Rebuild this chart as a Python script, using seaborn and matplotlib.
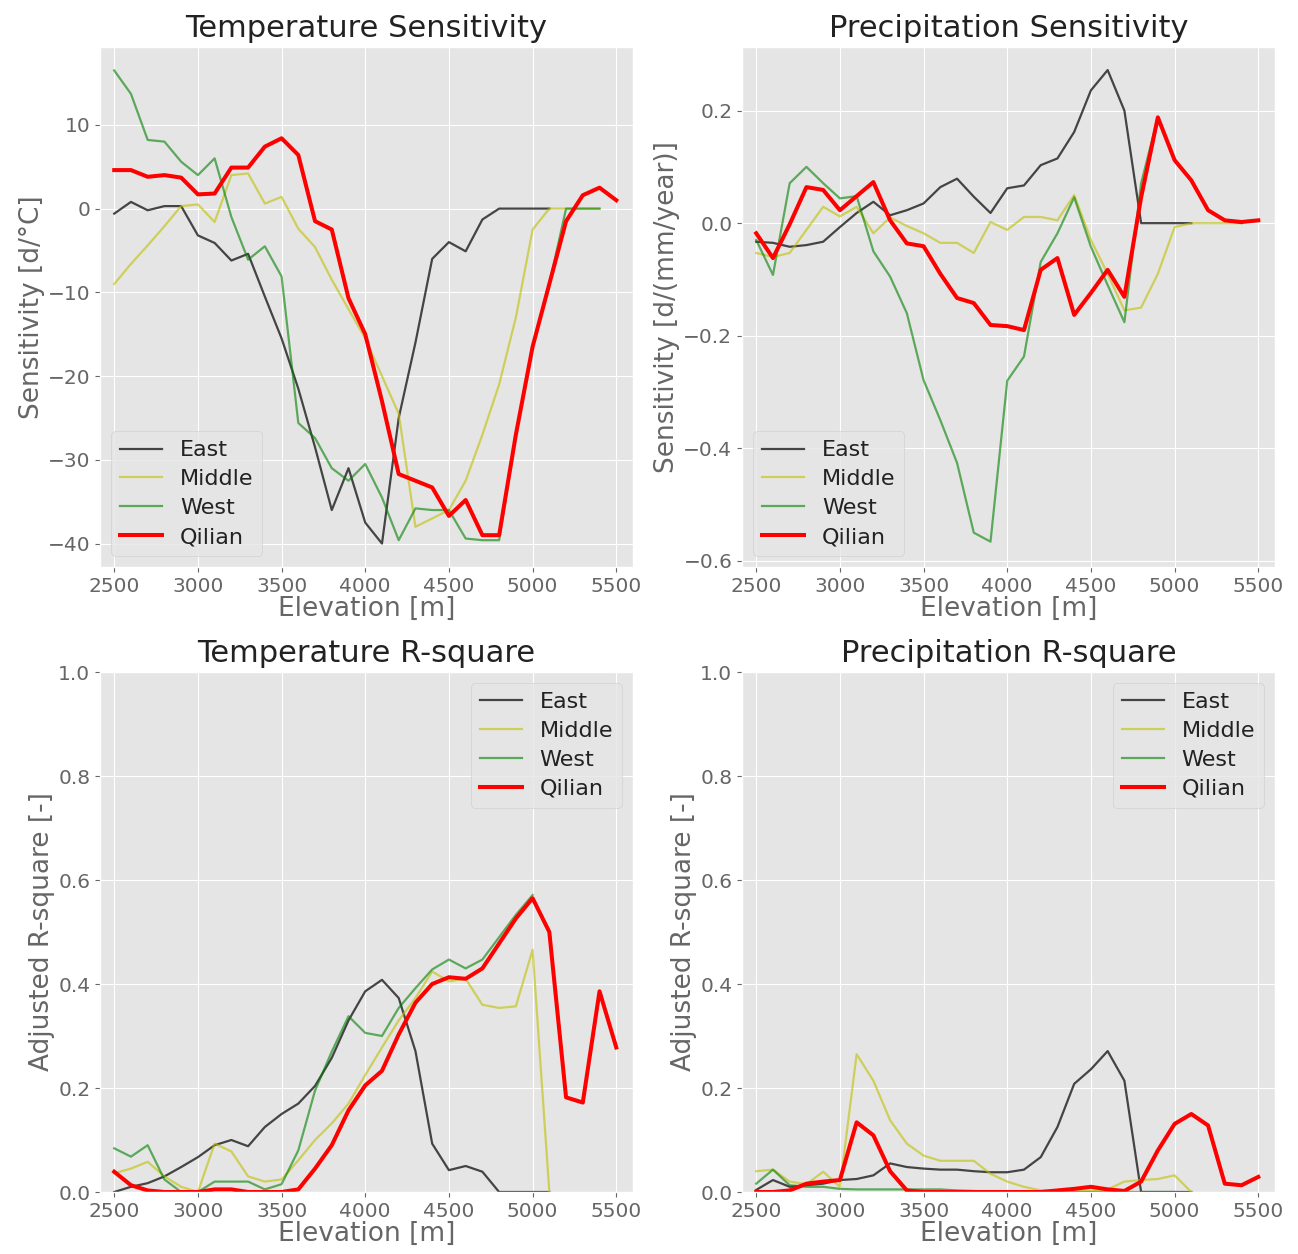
import numpy as np
import pandas as pd
import matplotlib
matplotlib.use("Agg")
import matplotlib.pyplot as plt
import seaborn as sns

nan = np.nan
elevation = list(range(2500, 5600, 100))
regions = ["East", "Middle", "West", "Qilian"]

# Temperature sensitivity [d/°C]
east_ts = [-0.6, 0.8, -0.2, 0.3, 0.3, -3.2, -4.1, -6.2, -5.4, -10.5, -15.5, -21.5, -28.5, -36, -31, -37.5,
           -40, -25, -16, -6, -4, -5.1, -1.3, 0, 0, 0, 0, nan, nan, nan, nan]
middle_ts = [-9, -6.6, -4.4, -2.1, 0.3, 0.5, -1.6, 4.0, 4.2, 0.6, 1.4, -2.4, -4.6, -8.5, -12, -15.5,
             -20, -24.5, -38, -37, -36, -32.5, -27, -21, -13, -2.5, 0, 0, 0, 0, nan]
west_ts = [16.5, 13.7, 8.2, 8.0, 5.6, 4.0, 6.0, -1.0, -6.1, -4.5, -8.1, -25.6, -27.4, -31, -32.5, -30.5,
           -34.5, -39.6, -35.8, -36, -36, -39.4, -39.6, -39.6, -27, -16.5, -9, 0, 0, 0, nan]
qilian_ts = [4.6, 4.6, 3.8, 4.0, 3.7, 1.7, 1.8, 4.9, 4.9, 7.4, 8.4, 6.4, -1.5, -2.5, -10.7, -15,
             -23, -31.7, -32.5, -33.3, -36.7, -34.8, -39, -39, -27, -16.5, -9, -1.5, 1.6, 2.5, 1.0]

# Precipitation sensitivity [d/(mm/year)]
east_ps = [-0.033, -0.035, -0.042, -0.039, -0.033, -0.007, 0.018, 0.038, 0.014, 0.023, 0.035, 0.064,
           0.079, 0.047, 0.018, 0.062, 0.067, 0.103, 0.115, 0.162, 0.236, 0.272, 0.2, 0, 0, 0, 0,
           nan, nan, nan, nan]
middle_ps = [-0.053, -0.06, -0.053, -0.012, 0.029, 0.012, 0.029, -0.018, 0.01, -0.005, -0.018, -0.035,
             -0.035, -0.053, 0.002, -0.012, 0.011, 0.011, 0.005, 0.05, -0.03, -0.09, -0.155, -0.15,
             -0.09, -0.007, 0, 0, 0, 0, nan]
west_ps = [-0.03, -0.092, 0.071, 0.1, 0.071, 0.044, 0.048, -0.05, -0.095, -0.16, -0.279, -0.35,
           -0.426, -0.55, -0.566, -0.28, -0.237, -0.069, -0.018, 0.046, -0.042, -0.11, -0.176, 0.071,
           0.188, 0.112, 0.076, 0.023, 0.005, 0.0, nan]
qilian_ps = [-0.018, -0.062, -0.002, 0.064, 0.059, 0.023, 0.048, 0.073, 0.005, -0.036, -0.041, -0.09,
             -0.133, -0.142, -0.181, -0.183, -0.19, -0.083, -0.062, -0.163, -0.124, -0.083, -0.131,
             0.046, 0.188, 0.112, 0.076, 0.023, 0.005, 0.002, 0.005]

# Temperature adjusted R-square
east_tr = [0.0, 0.01, 0.017, 0.03, 0.048, 0.067, 0.09, 0.1, 0.088, 0.125, 0.15, 0.17, 0.204, 0.258,
           0.33, 0.386, 0.408, 0.373, 0.271, 0.093, 0.042, 0.05, 0.039, 0, 0, 0, 0, nan, nan, nan, nan]
middle_tr = [0.036, 0.045, 0.058, 0.03, 0.01, 0.0, 0.093, 0.078, 0.03, 0.02, 0.024, 0.061, 0.1, 0.132,
             0.17, 0.225, 0.278, 0.33, 0.373, 0.424, 0.405, 0.41, 0.36, 0.354, 0.357, 0.466, 0.0,
             nan, nan, nan, nan]
west_tr = [0.084, 0.068, 0.09, 0.024, 0.0, 0.0, 0.02, 0.02, 0.02, 0.005, 0.015, 0.08, 0.195, 0.27,
           0.338, 0.306, 0.3, 0.354, 0.392, 0.428, 0.447, 0.43, 0.447, 0.49, 0.533, 0.571,
           nan, nan, nan, nan, nan]
qilian_tr = [0.039, 0.013, 0.003, 0.0, 0.0, 0.0, 0.005, 0.005, 0.0, 0.0, 0.0, 0.005, 0.045, 0.09,
             0.157, 0.205, 0.233, 0.303, 0.364, 0.4, 0.413, 0.41, 0.43, 0.478, 0.526, 0.565, 0.5,
             0.182, 0.172, 0.386, 0.278]

# Precipitation adjusted R-square
east_pr = [0.004, 0.023, 0.01, 0.013, 0.016, 0.023, 0.025, 0.032, 0.055, 0.048, 0.045, 0.043, 0.043,
           0.04, 0.038, 0.038, 0.043, 0.067, 0.125, 0.208, 0.236, 0.271, 0.214, 0.0, 0, 0, 0,
           nan, nan, nan, nan]
middle_pr = [0.04, 0.043, 0.02, 0.015, 0.039, 0.01, 0.265, 0.214, 0.138, 0.093, 0.07, 0.06, 0.06,
             0.06, 0.035, 0.02, 0.01, 0.003, 0.002, 0.002, 0.002, 0.005, 0.02, 0.023, 0.025, 0.032,
             0.0, nan, nan, nan, nan]
west_pr = [0.016, 0.043, 0.013, 0.01, 0.01, 0.006, 0.005, 0.005, 0.005, 0.005, 0.005, 0.005, 0.003,
           0.002, 0.0, 0, 0, 0, 0, 0, 0, 0, 0, 0, 0, 0, nan, nan, nan, nan, nan]
qilian_pr = [0.0, 0.0, 0.003, 0.016, 0.02, 0.023, 0.134, 0.109, 0.04, 0.003, 0.0, 0.0, 0.0, 0.0, 0.0,
             0.0, 0.0, 0.0, 0.003, 0.006, 0.01, 0.005, 0.002, 0.02, 0.08, 0.131, 0.15, 0.128, 0.016,
             0.013, 0.029]

titles = ["Temperature Sensitivity", "Precipitation Sensitivity",
          "Temperature R-square", "Precipitation R-square"]
ylabels = ["Sensitivity [d/°C]", "Sensitivity [d/(mm/year)]",
           "Adjusted R-square [-]", "Adjusted R-square [-]"]
panels = [
    [east_ts, middle_ts, west_ts, qilian_ts],
    [east_ps, middle_ps, west_ps, qilian_ps],
    [east_tr, middle_tr, west_tr, qilian_tr],
    [east_pr, middle_pr, west_pr, qilian_pr],
]

plt.style.use("ggplot")
plt.rcParams["font.family"] = ["DejaVu Sans"]

styles = {
    "East": dict(color="k", alpha=0.7, lw=1.6),
    "Middle": dict(color="y", alpha=0.6, lw=1.6),
    "West": dict(color="g", alpha=0.6, lw=1.6),
    "Qilian": dict(color="r", alpha=1.0, lw=2.9),
}

fig = plt.figure(figsize=(12.98, 12.54), dpi=100)
W, H = 1298, 1254
boxes = [(100, 47, 633, 567), (742, 47, 1275, 567), (100, 672, 633, 1192), (742, 672, 1275, 1192)]

for i, (series, (l, t, r, b)) in enumerate(zip(panels, boxes)):
    ax = fig.add_axes([l / W, 1 - b / H, (r - l) / W, (b - t) / H])
    for name, vals in zip(regions, series):
        st = styles[name]
        sns.lineplot(x=elevation, y=vals, ax=ax, label=name, color=st["color"],
                     alpha=st["alpha"], linewidth=st["lw"], errorbar=None)
    ax.set_xlim(2415, 5600)
    ax.set_xticks([2500, 3000, 3500, 4000, 4500, 5000, 5500])
    if i == 0:
        ax.set_ylim(-42.8, 19.3)
        ax.set_yticks([-40, -30, -20, -10, 0, 10])
    elif i == 1:
        ax.set_ylim(-0.611, 0.313)
        ax.set_yticks([-0.6, -0.4, -0.2, 0.0, 0.2])
    else:
        ax.set_ylim(0, 1.0)
        ax.set_yticks([0.0, 0.2, 0.4, 0.6, 0.8, 1.0])
    ax.set_title(titles[i], fontsize=22, color="#222222", pad=7)
    ax.set_xlabel("Elevation [m]", fontsize=19, color="#666666", labelpad=0)
    ax.set_ylabel(ylabels[i], fontsize=19, color="#666666", labelpad=2)
    ax.tick_params(labelsize=14.5, colors="#666666")
    loc = "lower left" if i < 2 else "upper right"
    leg = ax.legend(loc=loc, fontsize=16, frameon=True, labelspacing=0.4,
                    handlelength=1.9, handletextpad=0.8)
    for txt in leg.get_texts():
        txt.set_color("#222222")

fig.savefig("out.png", dpi=100)
